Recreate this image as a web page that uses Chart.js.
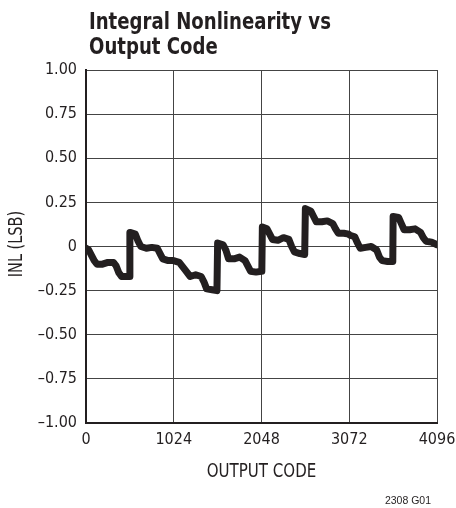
<!DOCTYPE html>
<html>
<head>
<meta charset="utf-8">
<script src="https://cdn.jsdelivr.net/npm/chart.js@4/dist/chart.umd.min.js"></script>
<style>
  html, body { margin: 0; padding: 0; background: #fff; }
  #wrap { width: 456px; height: 508px; }
</style>
</head>
<body>
<div id="wrap"><canvas id="inlChart"></canvas></div>
<script>
// data
const codes = [
    0, 32, 64, 96, 128, 192, 256, 320, 352, 384, 416, 480, 508,
    512, 576, 608, 640, 704, 768, 832, 864, 896, 960, 1020,
    1024, 1088, 1152, 1216, 1280, 1344, 1376, 1408, 1472, 1528,
    1536, 1600, 1632, 1664, 1728, 1792, 1856, 1888, 1920, 1984, 2044,
    2052, 2058, 2112, 2144, 2176, 2240, 2304, 2368, 2400, 2432, 2496, 2552,
    2560, 2624, 2656, 2688, 2752, 2816, 2880, 2912, 2944, 3008, 3068,
    3072, 3136, 3168, 3200, 3264, 3328, 3392, 3424, 3456, 3520, 3580,
    3584, 3648, 3680, 3712, 3776, 3840, 3904, 3936, 3968, 4032, 4096
];
const inl = [
    -0.01, -0.02, -0.05, -0.08, -0.10, -0.10, -0.09, -0.09, -0.11, -0.15, -0.17, -0.17, -0.17,
    0.08, 0.07, 0.03, 0.00, -0.01, -0.005, -0.01, -0.04, -0.07, -0.08, -0.08,
    -0.08, -0.09, -0.13, -0.17, -0.16, -0.17, -0.20, -0.24, -0.245, -0.25,
    0.02, 0.01, -0.02, -0.07, -0.07, -0.06, -0.08, -0.11, -0.14, -0.145, -0.14,
    -0.13, 0.11, 0.10, 0.07, 0.04, 0.035, 0.05, 0.04, 0.00, -0.03, -0.04, -0.045,
    0.215, 0.20, 0.17, 0.14, 0.14, 0.145, 0.13, 0.10, 0.075, 0.075, 0.07,
    0.065, 0.055, 0.02, -0.01, -0.005, 0.00, -0.02, -0.06, -0.08, -0.085, -0.085,
    0.17, 0.165, 0.13, 0.095, 0.095, 0.10, 0.08, 0.05, 0.03, 0.025, 0.01
];
const yTicks = [-1, -0.75, -0.5, -0.25, 0, 0.25, 0.5, 0.75, 1];
const yTickLabels = ['\u20131.00', '\u20130.75', '\u20130.50', '\u20130.25', '0', '0.25', '0.50', '0.75', '1.00'];
const xTicks = [0, 1024, 2048, 3072, 4096];
const xTickLabels = ['0', '1024', '2048', '3072', '4096'];

const narrow = '"DejaVu Sans Condensed", "Liberation Sans", sans-serif';
const ink = '#231f20';

const points = codes.map((c, i) => ({ x: c, y: inl[i] }));

// squeeze text sideways to get the condensed look
function squeezed(ctx, text, x, y, sx) {
    ctx.save();
    ctx.translate(x, y);
    ctx.scale(sx, 1);
    ctx.fillText(text, 0, 0);
    ctx.restore();
}

// title, axis titles and figure number
const textPlugin = {
    id: 'texts',
    afterDraw(chart) {
        const ctx = chart.ctx;
        const area = chart.chartArea;
        ctx.save();
        ctx.fillStyle = ink;
        ctx.textBaseline = 'alphabetic';
        ctx.textAlign = 'left';
        ctx.font = 'bold 23px ' + narrow;
        squeezed(ctx, 'Integral Nonlinearity vs', 89, 29, 0.875);
        squeezed(ctx, 'Output Code', 89, 54, 0.875);

        ctx.font = '19px ' + narrow;
        ctx.textAlign = 'center';
        squeezed(ctx, 'OUTPUT CODE', (area.left + area.right) / 2, 477, 0.88);

        ctx.save();
        ctx.translate(22, 244);
        ctx.rotate(-Math.PI / 2);
        squeezed(ctx, 'INL (LSB)', 0, 0, 0.85);
        ctx.restore();

        ctx.font = '10.5px "Liberation Sans", Arial, sans-serif';
        ctx.textAlign = 'right';
        ctx.fillText('2308 G01', 431, 504);
        ctx.restore();
    }
};

const config = {
    type: 'line',
    data: {
        datasets: [{
            data: points,
            borderColor: ink,
            borderWidth: 7,
            pointRadius: 0,
            tension: 0,
            borderJoinStyle: 'round',
            borderCapStyle: 'round'
        }]
    },
    options: {
        responsive: false,
        animation: false,
        devicePixelRatio: 1,
        layout: { padding: { top: 70, right: 19, left: 0, bottom: 0 } },
        plugins: {
            legend: false,
            tooltip: { enabled: false }
        },
        scales: {
            x: {
                type: 'linear',
                min: 0,
                max: 4096,
                afterFit(scale) {
                    scale.height = 85;
                    scale.paddingLeft = 0;
                    scale.paddingRight = 0;
                },
                afterBuildTicks(scale) { scale.ticks = xTicks.map(v => ({ value: v })); },
                ticks: {
                    color: ink,
                    font: { family: narrow, size: 16 },
                    padding: 7,
                    maxRotation: 0,
                    autoSkip: false,
                    callback: (v) => xTickLabels[xTicks.indexOf(v)]
                },
                grid: { color: '#444', lineWidth: 1, drawTicks: false },
                border: { color: ink, width: 2 }
            },
            y: {
                min: -1,
                max: 1,
                afterFit(scale) { scale.width = 86; },
                afterBuildTicks(scale) { scale.ticks = yTicks.map(v => ({ value: v })); },
                ticks: {
                    color: ink,
                    font: { family: narrow, size: 16 },
                    padding: 9,
                    autoSkip: false,
                    callback: (v) => yTickLabels[yTicks.indexOf(v)]
                },
                grid: { color: '#444', lineWidth: 1, drawTicks: false },
                border: { color: ink, width: 2 }
            }
        }
    },
    plugins: [textPlugin]
};

const canvas = document.getElementById('inlChart');
canvas.width = 456;
canvas.height = 508;
const inlChart = new Chart(canvas, config);
</script>
</body>
</html>
